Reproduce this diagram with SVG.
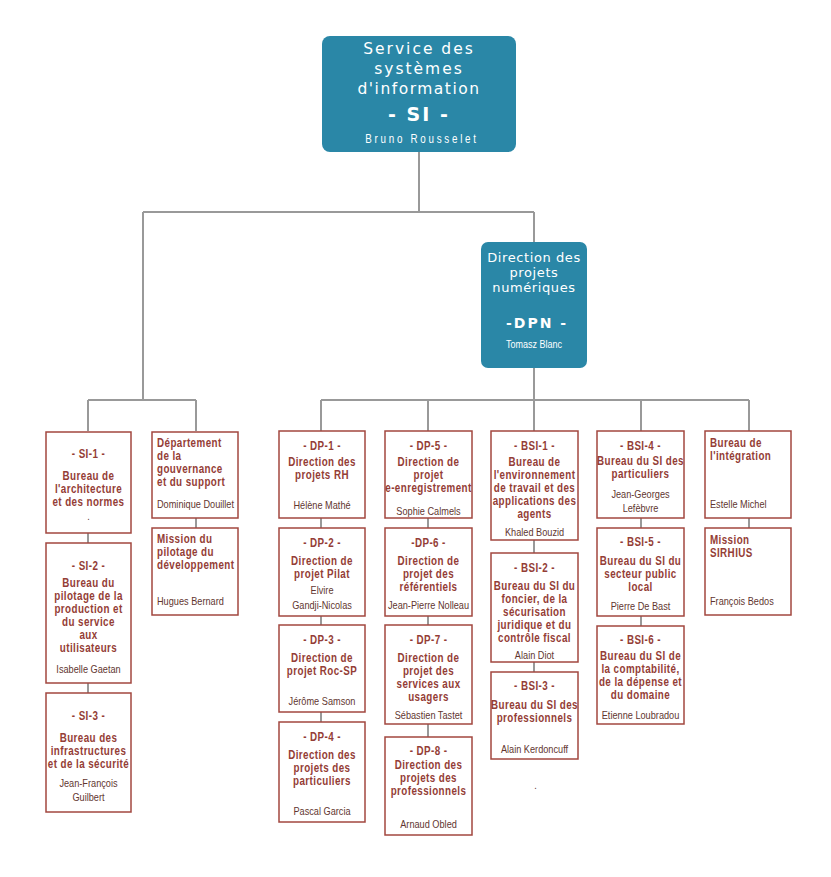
<svg xmlns="http://www.w3.org/2000/svg" width="831" height="877" viewBox="0 0 831 877">
<style>
.bg{fill:#ffffff}
.box{fill:#ffffff;stroke:#a2473f;stroke-width:1.5}
.hd{fill:#2a87a7}
.w{font-family:"DejaVu Sans",sans-serif;fill:#ffffff;text-anchor:middle}
.wn{font-family:"Liberation Sans",Arial,sans-serif;fill:#ffffff;text-anchor:middle;transform:scaleX(0.82);transform-box:fill-box;transform-origin:center}
.t{font-family:"Liberation Sans",Arial,sans-serif;font-weight:bold;font-size:12px;letter-spacing:0.5px;fill:#943d36;text-anchor:middle;transform:scaleX(0.82);transform-box:fill-box;transform-origin:center}
.n{font-family:"Liberation Sans",Arial,sans-serif;font-size:11.2px;fill:#62362f;text-anchor:middle;transform:scaleX(0.82);transform-box:fill-box;transform-origin:center}
.l{text-anchor:start;transform-origin:left center}
.conn path{stroke:#999999;stroke-width:2;fill:none}
</style>
<rect class="bg" x="0" y="0" width="831" height="877"/>
<g id="connectors" class="conn">
<path d="M419,152 V212 M143,212 H534 M534,212 V242 M143,212 V400 M88,400 H196 M88,400 V431 M196,400 V431"/>
<path d="M88,533 V543 M88,683 V693 M196,518 V528"/>
<path d="M534,368 V400 M321,400 H749 M321,400 V431 M428,400 V431 M534,400 V431 M641,400 V431 M749,400 V431"/>
<path d="M321,518 V528 M321,616 V625 M321,712 V722"/>
<path d="M428,518 V528 M428,616 V625 M428,724 V737"/>
<path d="M534,540 V553 M534,662 V672"/>
<path d="M641,518 V528 M641,616 V626"/>
<path d="M749,518 V528"/>
</g>
<g id="si">
<rect class="hd" x="322" y="36" width="194" height="116" rx="8"/>
<text class="w" x="419" y="54" font-size="15.5" letter-spacing="2">Service des</text>
<text class="w" x="419" y="74" font-size="15.5" letter-spacing="2">systèmes</text>
<text class="w" x="419" y="94" font-size="15.5" letter-spacing="1.5">d'information</text>
<text class="w" x="419" y="121" font-size="19" font-weight="bold" letter-spacing="2">- SI -</text>
<text class="wn" x="422" y="143" font-size="12" letter-spacing="3.3">Bruno Rousselet</text>
</g>
<g id="dpn">
<rect class="hd" x="481" y="242" width="106" height="126" rx="7"/>
<text class="w" x="534" y="262" font-size="13" letter-spacing="0.6">Direction des</text>
<text class="w" x="534" y="277" font-size="13" letter-spacing="0.6">projets</text>
<text class="w" x="534" y="292" font-size="13" letter-spacing="0.6">numériques</text>
<text class="w" x="537" y="328" font-size="14" font-weight="bold" letter-spacing="2">-DPN -</text>
<text class="wn" x="534" y="348" font-size="11">Tomasz Blanc</text>
</g>
<g id="si1">
<rect class="box" x="46" y="432" width="85" height="101"/>
<text class="t" x="88.5" y="458">- SI-1 -</text>
<text class="t" x="88.5" y="480">Bureau de</text>
<text class="t" x="88.5" y="493">l'architecture</text>
<text class="t" x="88.5" y="506">et des normes</text>
<text class="n" x="88.5" y="520">.</text>
</g>
<g id="si2">
<rect class="box" x="46" y="543" width="85" height="140"/>
<text class="t" x="88.5" y="570">- SI-2 -</text>
<text class="t" x="88.5" y="587">Bureau du</text>
<text class="t" x="88.5" y="600">pilotage de la</text>
<text class="t" x="88.5" y="613">production et</text>
<text class="t" x="88.5" y="626">du service</text>
<text class="t" x="88.5" y="639">aux</text>
<text class="t" x="88.5" y="652">utilisateurs</text>
<text class="n" x="88.5" y="673">Isabelle Gaetan</text>
</g>
<g id="si3">
<rect class="box" x="46" y="693" width="85" height="119"/>
<text class="t" x="88.5" y="720">- SI-3 -</text>
<text class="t" x="88.5" y="742">Bureau des</text>
<text class="t" x="88.5" y="755">infrastructures</text>
<text class="t" x="88.5" y="768">et de la sécurité</text>
<text class="n" x="88.5" y="787">Jean-François</text>
<text class="n" x="88.5" y="801">Guilbert</text>
</g>
<g id="dgs">
<rect class="box" x="152" y="432" width="86" height="86"/>
<text class="t l" x="157" y="447">Département</text>
<text class="t l" x="157" y="460">de la</text>
<text class="t l" x="157" y="473">gouvernance</text>
<text class="t l" x="157" y="486">et du support</text>
<text class="n l" x="157" y="508">Dominique Douillet</text>
</g>
<g id="mpd">
<rect class="box" x="152" y="528" width="86" height="87"/>
<text class="t l" x="157" y="543">Mission du</text>
<text class="t l" x="157" y="556">pilotage du</text>
<text class="t l" x="157" y="569">développement</text>
<text class="n l" x="157" y="605">Hugues Bernard</text>
</g>
<g id="dp1">
<rect class="box" x="279" y="431" width="86" height="87"/>
<text class="t" x="322" y="450">- DP-1 -</text>
<text class="t" x="322" y="466">Direction des</text>
<text class="t" x="322" y="479">projets RH</text>
<text class="n" x="322" y="509">Hélène Mathé</text>
</g>
<g id="dp2">
<rect class="box" x="279" y="528" width="86" height="88"/>
<text class="t" x="322" y="547">- DP-2 -</text>
<text class="t" x="322" y="565">Direction de</text>
<text class="t" x="322" y="578">projet Pilat</text>
<text class="n" x="322" y="594">Elvire</text>
<text class="n" x="322" y="609">Gandji-Nicolas</text>
</g>
<g id="dp3">
<rect class="box" x="279" y="625" width="86" height="87"/>
<text class="t" x="322" y="644">- DP-3 -</text>
<text class="t" x="322" y="662">Direction de</text>
<text class="t" x="322" y="675">projet Roc-SP</text>
<text class="n" x="322" y="705">Jérôme Samson</text>
</g>
<g id="dp4">
<rect class="box" x="279" y="722" width="86" height="100"/>
<text class="t" x="322" y="741">- DP-4 -</text>
<text class="t" x="322" y="759">Direction des</text>
<text class="t" x="322" y="772">projets des</text>
<text class="t" x="322" y="785">particuliers</text>
<text class="n" x="322" y="815">Pascal Garcia</text>
</g>
<g id="dp5">
<rect class="box" x="385" y="431" width="87" height="87"/>
<text class="t" x="428.5" y="450">- DP-5 -</text>
<text class="t" x="428.5" y="466">Direction de</text>
<text class="t" x="428.5" y="479">projet</text>
<text class="t" x="428.5" y="492">e-enregistrement</text>
<text class="n" x="428.5" y="515">Sophie Calmels</text>
</g>
<g id="dp6">
<rect class="box" x="385" y="528" width="87" height="88"/>
<text class="t" x="428.5" y="547">-DP-6 -</text>
<text class="t" x="428.5" y="565">Direction de</text>
<text class="t" x="428.5" y="578">projet des</text>
<text class="t" x="428.5" y="591">référentiels</text>
<text class="n" x="428.5" y="609">Jean-Pierre Nolleau</text>
</g>
<g id="dp7">
<rect class="box" x="385" y="625" width="87" height="99"/>
<text class="t" x="428.5" y="644">- DP-7 -</text>
<text class="t" x="428.5" y="662">Direction de</text>
<text class="t" x="428.5" y="675">projet des</text>
<text class="t" x="428.5" y="688">services aux</text>
<text class="t" x="428.5" y="701">usagers</text>
<text class="n" x="428.5" y="719">Sébastien Tastet</text>
</g>
<g id="dp8">
<rect class="box" x="385" y="737" width="87" height="98"/>
<text class="t" x="428.5" y="755">- DP-8 -</text>
<text class="t" x="428.5" y="769">Direction des</text>
<text class="t" x="428.5" y="782">projets des</text>
<text class="t" x="428.5" y="795">professionnels</text>
<text class="n" x="428.5" y="828">Arnaud Obled</text>
</g>
<g id="bsi1">
<rect class="box" x="491" y="431" width="87" height="109"/>
<text class="t" x="534.5" y="450">- BSI-1 -</text>
<text class="t" x="534.5" y="466">Bureau de</text>
<text class="t" x="534.5" y="479">l'environnement</text>
<text class="t" x="534.5" y="492">de travail et des</text>
<text class="t" x="534.5" y="505">applications des</text>
<text class="t" x="534.5" y="518">agents</text>
<text class="n" x="534.5" y="536">Khaled Bouzid</text>
</g>
<g id="bsi2">
<rect class="box" x="491" y="553" width="87" height="109"/>
<text class="t" x="534.5" y="572">- BSI-2 -</text>
<text class="t" x="534.5" y="590">Bureau du SI du</text>
<text class="t" x="534.5" y="603">foncier, de la</text>
<text class="t" x="534.5" y="616">sécurisation</text>
<text class="t" x="534.5" y="629">juridique et du</text>
<text class="t" x="534.5" y="642">contrôle fiscal</text>
<text class="n" x="534.5" y="659">Alain Diot</text>
</g>
<g id="bsi3">
<rect class="box" x="491" y="672" width="87" height="87"/>
<text class="t" x="534.5" y="690">- BSI-3 -</text>
<text class="t" x="534.5" y="709">Bureau du SI des</text>
<text class="t" x="534.5" y="722">professionnels</text>
<text class="n" x="534.5" y="753">Alain Kerdoncuff</text>
<text class="n" x="535.5" y="789">.</text>
</g>
<g id="bsi4">
<rect class="box" x="597" y="431" width="87" height="87"/>
<text class="t" x="640.5" y="450">- BSI-4 -</text>
<text class="t" x="640.5" y="465">Bureau du SI des</text>
<text class="t" x="640.5" y="478">particuliers</text>
<text class="n" x="640.5" y="498">Jean-Georges</text>
<text class="n" x="640.5" y="512">Lefèbvre</text>
</g>
<g id="bsi5">
<rect class="box" x="597" y="528" width="87" height="88"/>
<text class="t" x="640.5" y="546">- BSI-5 -</text>
<text class="t" x="640.5" y="565">Bureau du SI du</text>
<text class="t" x="640.5" y="578">secteur public</text>
<text class="t" x="640.5" y="591">local</text>
<text class="n" x="640.5" y="610">Pierre De Bast</text>
</g>
<g id="bsi6">
<rect class="box" x="597" y="626" width="87" height="98"/>
<text class="t" x="640.5" y="644">- BSI-6 -</text>
<text class="t" x="640.5" y="660">Bureau du SI de</text>
<text class="t" x="640.5" y="673">la comptabilité,</text>
<text class="t" x="640.5" y="686">de la dépense et</text>
<text class="t" x="640.5" y="699">du domaine</text>
<text class="n" x="640.5" y="719">Etienne Loubradou</text>
</g>
<g id="integration">
<rect class="box" x="705" y="431" width="86" height="87"/>
<text class="t l" x="710" y="447">Bureau de</text>
<text class="t l" x="710" y="460">l'intégration</text>
<text class="n l" x="710" y="508">Estelle Michel</text>
</g>
<g id="sirhius">
<rect class="box" x="705" y="528" width="86" height="87"/>
<text class="t l" x="710" y="544">Mission</text>
<text class="t l" x="710" y="557">SIRHIUS</text>
<text class="n l" x="710" y="605">François Bedos</text>
</g>
</svg>
